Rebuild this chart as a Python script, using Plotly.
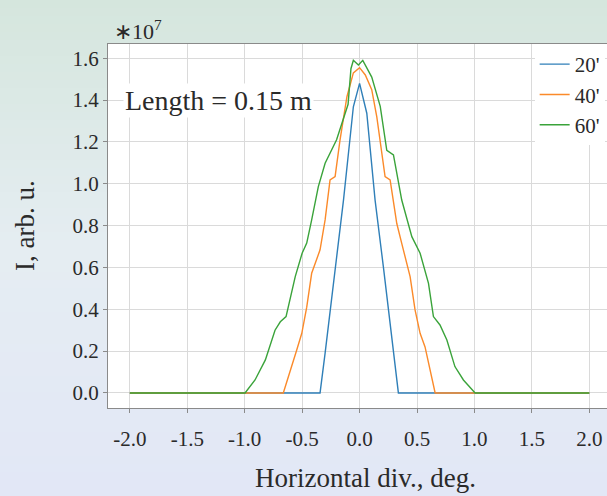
import plotly.graph_objects as go

# ---- data (intensity in units of 1e7) ----
x20 = [-2.0, -0.344, -0.30, -0.228, -0.14, -0.054, 0.0, 0.063, 0.135, 0.207, 0.295, 0.338, 2.0]
y20 = [0, 0, 0.19, 0.524, 0.922, 1.368, 1.48, 1.337, 0.922, 0.604, 0.205, 0, 0]

x40 = [-2.0, -0.664, -0.547, -0.503, -0.46, -0.417, -0.344, -0.30, -0.257, -0.213, -0.17, -0.11,
       -0.054, 0.0, 0.05, 0.106, 0.15, 0.193, 0.222, 0.266, 0.324, 0.367, 0.44, 0.483, 0.527,
       0.57, 0.658, 2.0]
y40 = [0, 0, 0.205, 0.285, 0.41, 0.572, 0.684, 0.827, 1.018, 1.034, 1.21, 1.416,
       1.53, 1.555, 1.52, 1.45, 1.32, 1.16, 1.034, 1.018, 0.81, 0.715, 0.556, 0.397, 0.285,
       0.22, 0, 0]

x60 = [-2.0, -0.997, -0.91, -0.82, -0.736, -0.69, -0.64, -0.605, -0.56, -0.50, -0.46, -0.417,
       -0.359, -0.30, -0.20, -0.10, -0.075, -0.054, -0.01, 0.028, 0.06, 0.106, 0.18, 0.237,
       0.295, 0.367, 0.455, 0.527, 0.6, 0.643, 0.70, 0.76, 0.83, 0.904, 1.006, 2.0]
y60 = [0, 0, 0.062, 0.158, 0.30, 0.34, 0.365, 0.445, 0.556, 0.668, 0.716, 0.827,
       0.986, 1.098, 1.21, 1.38, 1.55, 1.59, 1.568, 1.59, 1.56, 1.51, 1.37, 1.16,
       1.138, 0.922, 0.747, 0.668, 0.524, 0.365, 0.325, 0.253, 0.126, 0.062, 0, 0]

series_names = ["20'", "40'", "60'"]
series_x = [x20, x40, x60]
series_y = [y20, y40, y60]
colors = ["#2f7fb8", "#fb8a2a", "#3aa33a"]

xticks = [-2.0, -1.5, -1.0, -0.5, 0.0, 0.5, 1.0, 1.5, 2.0]
yticks = [0.0, 0.2, 0.4, 0.6, 0.8, 1.0, 1.2, 1.4, 1.6]

W, H = 607, 496
L, T, B = 108, 44, 88
plot_h = H - T - B
SERIF = "Liberation Serif"
TXT = "#2a2a2a"

fig = go.Figure()
for nm, xs, ys, c in zip(series_names, series_x, series_y, colors):
    fig.add_trace(go.Scatter(x=xs, y=ys, mode="lines", name=nm,
                             line=dict(color=c, width=1.4)))

# background gradient bands
def lerp(a, b, t):
    return tuple(int(round(a[i] + (b[i] - a[i]) * t)) for i in range(3))

top_c, mid_c, bot_c = (213, 230, 221), (229, 237, 242), (226, 231, 246)
shapes = []
band = 8
for p in range(0, H, band):
    t = (p + band / 2) / H
    if t < 0.5:
        c = lerp(top_c, mid_c, t / 0.5)
    else:
        c = lerp(mid_c, bot_c, (t - 0.5) / 0.5)
    y1 = (H - B - p) / plot_h
    y0 = (H - B - p - band - 1) / plot_h
    shapes.append(dict(type="rect", xref="paper", yref="paper", x0=-L / (W - L) - 0.01, x1=1.02,
                       y0=y0, y1=y1, fillcolor="rgb(%d,%d,%d)" % c, line=dict(width=0),
                       layer="below"))
shapes.append(dict(type="rect", xref="x domain", yref="y domain", x0=0, x1=1, y0=0, y1=1,
                   fillcolor="white", line=dict(width=0), layer="below"))

axis_common = dict(showgrid=True, gridcolor="#dadada", gridwidth=1, showline=True,
                   linecolor="#8a8a8a", linewidth=1, ticks="outside", ticklen=4,
                   tickcolor="#8a8a8a", zeroline=False,
                   tickfont=dict(family=SERIF, size=21, color=TXT))

fig.update_layout(
    width=W, height=H,
    margin=dict(l=L, r=0, t=T, b=B),
    paper_bgcolor="rgb(226,234,238)",
    plot_bgcolor="white",
    shapes=shapes,
    showlegend=True,
    font=dict(family=SERIF, color=TXT),
    legend=dict(x=0.855, y=1.0, xanchor="left", yanchor="top", bgcolor="white",
                borderwidth=0, font=dict(family=SERIF, size=21, color=TXT),
                tracegroupgap=0),
    xaxis=dict(range=[-2.19, 2.154], tickvals=xticks,
               ticktext=["%.1f" % v for v in xticks], mirror=True,
               ticklabelstandoff=8, **axis_common),
    yaxis=dict(range=[-0.072, 1.668], tickvals=yticks,
               ticktext=["%.1f" % v for v in yticks], mirror=False, **axis_common),
    annotations=[
        dict(text="Length = 0.15 m", xref="paper", yref="y", x=0.03, y=1.4,
             xanchor="left", yanchor="middle", showarrow=False, bgcolor="white",
             font=dict(family=SERIF, size=28, color=TXT)),
        dict(text="∗10<sup>7</sup>", xref="paper", yref="paper", x=(112 - L) / (W - L),
             y=(H - B - 30) / plot_h, xanchor="left", yanchor="middle", showarrow=False,
             font=dict(family=SERIF, size=22, color=TXT)),
        dict(text="Horizontal div., deg.", xref="paper", yref="paper",
             x=(365 - L) / (W - L), y=(H - B - 478) / plot_h, xanchor="center",
             yanchor="middle", showarrow=False,
             font=dict(family=SERIF, size=27, color=TXT)),
        dict(text="I, arb. u.", xref="paper", yref="paper", x=(25 - L) / (W - L),
             y=0.5, xanchor="center", yanchor="middle", textangle=-90, showarrow=False,
             font=dict(family=SERIF, size=27, color=TXT)),
    ],
)

fig.write_html("out.html")
